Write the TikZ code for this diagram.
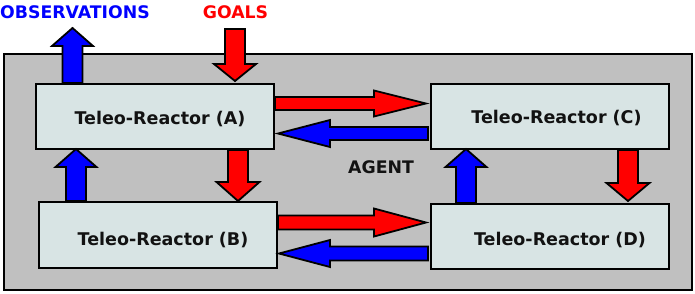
\documentclass[tikz,border=0pt]{standalone}
\usepackage{fontspec}
\setmainfont{DejaVu Sans}
\usetikzlibrary{calc}
\definecolor{agentgray}{RGB}{192,192,192}
\definecolor{boxfill}{RGB}{216,228,228}
\definecolor{goalred}{RGB}{255,0,0}
\definecolor{obsblue}{RGB}{0,0,255}
\newcommand\blockarr[6]{%
  \coordinate (hb) at ($(#3)!#6!(#2)$);
  \filldraw[#1] ($(#2)!#4!90:(#3)$) -- ($(hb)!#4!90:(#3)$) -- ($(hb)!#5!90:(#3)$) -- (#3)
    -- ($(hb)!#5!-90:(#3)$) -- ($(hb)!#4!-90:(#3)$) -- ($(#2)!#4!-90:(#3)$) -- cycle;
}
\newcommand\rlabel[3]{\hspace*{#1}\raisebox{#2}[0pt][0pt]{#3}}
\begin{document}
\begin{tikzpicture}[x=1pt,y=-1pt,
  reactor/.style={draw=black,line width=2pt,fill=boxfill,minimum width=238pt,minimum height=65pt,inner sep=0pt,
    font=\fontsize{17.5pt}{20pt}\selectfont\bfseries,text=black!93},
  redarr/.style={fill=goalred,draw=black,line width=1.8pt,line join=miter},
  bluearr/.style={fill=obsblue,draw=black,line width=1.8pt,line join=miter},
  toplabel/.style={font=\fontsize{17.3pt}{20pt}\selectfont\bfseries,inner sep=0pt}]
\useasboundingbox (0,0) rectangle (695,293);
\node[draw=black,line width=2pt,fill=agentgray,minimum width=688pt,minimum height=236pt,inner sep=0pt] (agent) at (348,172) {};
\node[font=\fontsize{17.3pt}{20pt}\selectfont\bfseries,text=black!93,inner sep=0pt] (agentlbl) at (381,167) {AGENT};
\node[toplabel,text=obsblue] (obs) at (75,12) {OBSERVATIONS};
\node[toplabel,text=goalred] (goals) at (235.5,12) {GOALS};
\node[reactor] (A) at (155,116.5) {\rlabel{10pt}{-7.9pt}{Teleo-Reactor (A)}};
\node[reactor] (C) at (550,116.5) {\rlabel{13pt}{-6.8pt}{Teleo-Reactor (C)}};
\node[reactor,minimum height=66pt] (B) at (158,235) {\rlabel{10pt}{-10.6pt}{Teleo-Reactor (B)}};
\node[reactor] (D) at (550,236.5) {\rlabel{20pt}{-9.2pt}{Teleo-Reactor (D)}};
% vertical arrows
\coordinate (obstip) at ($(A.north west)+(37.5,-55)$);
\coordinate (goalstart) at ($(A.north west)+(200,-54)$);
\blockarr{bluearr}{$(A.north west)+(37.5,0)$}{obstip}{10pt}{20.5pt}{18pt}
\blockarr{redarr}{goalstart}{$(A.north west)+(200,-2)$}{10pt}{21pt}{17pt}
\blockarr{redarr}{$(A.south west)+(203,0)$}{$(B.north west)+(200,0)$}{10pt}{21.5pt}{19pt}
\blockarr{bluearr}{$(B.north west)+(38,0)$}{$(A.south west)+(41,-1)$}{10pt}{20.5pt}{18pt}
\blockarr{bluearr}{$(D.north west)+(36,0)$}{$(C.south west)+(36,-1)$}{10pt}{20.5pt}{18pt}
\blockarr{redarr}{$(C.south west)+(198,0)$}{$(D.north west)+(198,-2)$}{10pt}{21.5pt}{18pt}
% horizontal arrows
\blockarr{redarr}{$(A.north east)+(0,20.5)$}{$(C.north west)+(-4,20.5)$}{6.5pt}{13pt}{52pt}
\blockarr{bluearr}{$(C.north west)+(-2,50.5)$}{$(A.north east)+(3,50.5)$}{6.5pt}{13.5pt}{52pt}
\blockarr{redarr}{$(B.north east)+(0,21.5)$}{$(D.north west)+(-4,19.5)$}{7pt}{14pt}{52pt}
\blockarr{bluearr}{$(D.north west)+(-2,50.5)$}{$(B.north east)+(1,52.5)$}{7pt}{13.5pt}{51pt}
\end{tikzpicture}
\end{document}
